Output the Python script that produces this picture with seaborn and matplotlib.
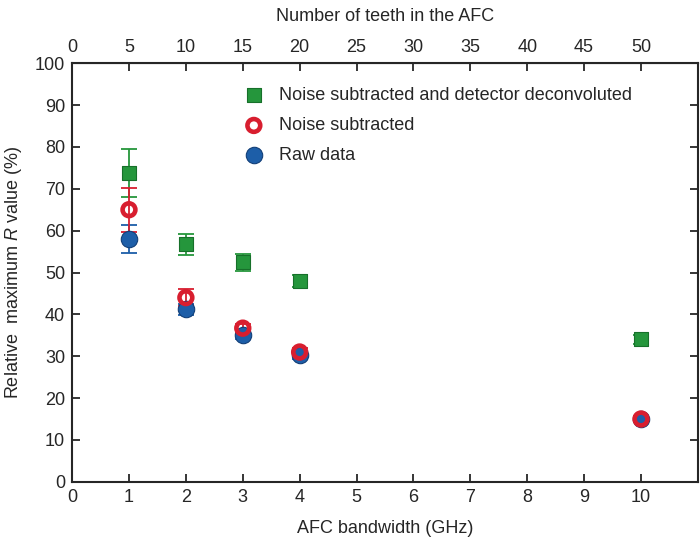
import numpy as np
import pandas as pd
import seaborn as sns
import matplotlib.pyplot as plt

# AFC bandwidth (GHz)
bandwidth = [1, 2, 3, 4, 10]

deconv = [73.8, 56.7, 52.4, 48.0, 34.0]
deconv_err = [5.8, 2.6, 2.0, 1.5, 1.0]

noise_sub = [65.0, 44.0, 36.7, 31.0, 15.0]
noise_sub_err = [5.3, 2.0, 1.0, 1.0, 0.6]

raw = [58.0, 41.2, 35.0, 30.2, 15.0]
raw_err = [3.3, 1.3, 1.0, 0.9, 0.5]

green = "#25963c"
red = "#d81e2f"
blue = "#1d5ea8"

sns.set_style("ticks")
plt.rcParams['font.family'] = ['Liberation Sans', 'DejaVu Sans']
plt.rcParams['mathtext.fontset'] = 'custom'
plt.rcParams['mathtext.it'] = 'Liberation Sans:italic'

fig = plt.figure(figsize=(7, 5.45), dpi=100)
ax = fig.add_axes([0.103, 0.116, 0.894, 0.768])

df = pd.DataFrame({
    "bw": bandwidth * 3,
    "val": deconv + noise_sub + raw,
    "err": deconv_err + noise_sub_err + raw_err,
    "series": ["deconv"] * 5 + ["noise"] * 5 + ["raw"] * 5,
})

# error bars
for name, col in [("deconv", green), ("raw", blue), ("noise", red)]:
    d = df[df.series == name]
    ax.errorbar(d.bw, d.val, yerr=d.err, fmt='none', ecolor=col,
                elinewidth=1.3, capsize=6, capthick=1.3, zorder=2)

d = df[df.series == "deconv"]
sns.scatterplot(x=d.bw, y=d.val, marker='s', s=105, color=green,
                edgecolor="#17702a", linewidth=0.8, ax=ax, zorder=3,
                label="Noise subtracted and detector deconvoluted")
d = df[df.series == "raw"]
sns.scatterplot(x=d.bw, y=d.val, marker='o', s=140, color=blue,
                edgecolor="#123f78", linewidth=0.8, ax=ax, zorder=3,
                label="Raw data")
d = df[df.series == "noise"]
sns.scatterplot(x=d.bw, y=d.val, marker='o', s=85, facecolor='none',
                edgecolor=red, linewidth=3.3, ax=ax, zorder=4,
                label="Noise subtracted")

handles, labels = ax.get_legend_handles_labels()
order = [0, 2, 1]
ax.legend([handles[i] for i in order], [labels[i] for i in order],
          loc='upper left', bbox_to_anchor=(0.25, 0.96), frameon=False,
          fontsize=13, handletextpad=0.4, labelspacing=0.72,
          borderaxespad=0)

ax.set_xlim(0, 11)
ax.set_ylim(0, 100)
ax.set_xticks(range(0, 11))
ax.set_yticks(range(0, 101, 10))
ax.tick_params(direction='in', length=6, width=1.3, labelsize=13,
               right=True, pad=5)
for sp in ax.spines.values():
    sp.set_linewidth(1.5)
    sp.set_visible(True)

ax.set_xlabel("AFC bandwidth (GHz)", fontsize=13, labelpad=10)
ax.set_ylabel("Relative  maximum $R$ value (%)", fontsize=13, labelpad=8)

top = ax.secondary_xaxis('top', functions=(lambda x: x * 5, lambda x: x / 5))
top.set_xticks(range(0, 51, 5))
top.tick_params(direction='in', length=6, width=1.3, labelsize=13, pad=5)
top.set_xlabel("Number of teeth in the AFC", fontsize=13, labelpad=13)

plt.savefig("out.png", dpi=100)
